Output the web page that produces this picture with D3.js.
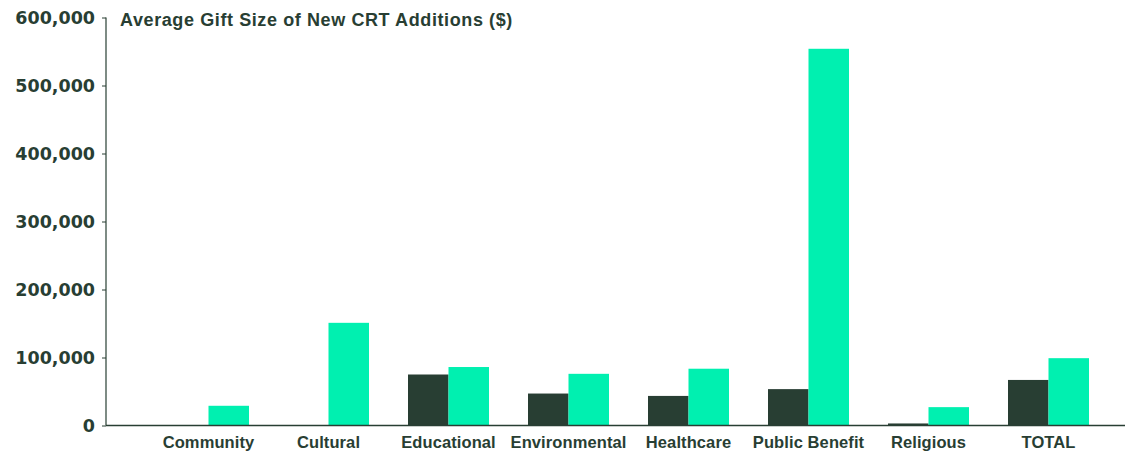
<!DOCTYPE html>
<html>
<head>
<meta charset="utf-8">
<script src="https://cdn.jsdelivr.net/npm/d3@7"></script>
<style>
  html, body { margin: 0; padding: 0; background: #ffffff; }
  svg { display: block; }
</style>
</head>
<body>
<svg id="chart" width="1131" height="453"></svg>
<script>
const categories = ["Community", "Cultural", "Educational", "Environmental", "Healthcare", "Public Benefit", "Religious", "TOTAL"];
const seriesNames = ["Prior", "New"];
const seriesA = [0, 0, 75000, 47000, 43500, 53500, 3000, 67000];
const seriesB = [29000, 151000, 86000, 76000, 83500, 554000, 27000, 99000];
const yTicks = [0, 100000, 200000, 300000, 400000, 500000, 600000];
const title = "Average Gift Size of New CRT Additions ($)";

const dark = "#283e33";
const light = "#00f0b0";
const textColor = "#283e33";

const svg = d3.select("#chart");
const axisX = 106, axisRight = 1125;
const y = d3.scaleLinear().domain([0, 600000]).range([425.5, 17.5]);
const x = d3.scaleBand().domain(categories).range([108, 1149]).paddingInner(0.325).paddingOuter(0.5);
const xs = d3.scaleBand().domain(seriesNames).range([0, x.bandwidth()]);

const data = categories.map((c, i) => ({ cat: c, vals: [seriesA[i], seriesB[i]] }));

// bars
const g = svg.append("g");
g.selectAll("g.grp").data(data).join("g")
  .attr("class", "grp")
  .attr("transform", d => `translate(${x(d.cat)},0)`)
  .selectAll("rect").data(d => d.vals.map((v, j) => ({ v, s: seriesNames[j] })))
  .join("rect")
  .attr("x", d => xs(d.s))
  .attr("width", xs.bandwidth())
  .attr("y", d => y(d.v))
  .attr("height", d => y(0) - y(d.v))
  .attr("fill", d => d.s === "Prior" ? dark : light);

// y axis
const yAxis = d3.axisLeft(y).tickValues(yTicks).tickSize(4).tickPadding(7)
  .tickFormat(d3.format(","));
const ya = svg.append("g").attr("transform", `translate(${axisX},0)`).call(yAxis);
ya.select(".domain").remove();
ya.selectAll(".tick line").attr("stroke", textColor);
ya.selectAll(".tick text")
  .attr("fill", textColor)
  .attr("dy", "0.36em")
  .style("font-family", "'DejaVu Sans', sans-serif")
  .style("font-weight", "bold")
  .style("font-size", "17.5px");
svg.append("line").attr("x1", axisX).attr("x2", axisX).attr("y1", y(600000)).attr("y2", y(0))
  .attr("stroke", textColor).attr("stroke-width", 1.2);

// x axis baseline
svg.append("line").attr("x1", axisX).attr("x2", axisRight).attr("y1", y(0)).attr("y2", y(0))
  .attr("stroke", textColor).attr("stroke-width", 1.5);

// x labels
const xAxis = d3.axisBottom(x).tickSize(0).tickPadding(11);
const xa = svg.append("g").attr("transform", `translate(0,${y(0)})`).call(xAxis);
xa.select(".domain").remove();
xa.selectAll(".tick text")
  .attr("fill", textColor)
  .style("font-family", "'Liberation Sans', Arial, sans-serif")
  .style("font-weight", "bold")
  .style("font-size", "16.5px")
  .style("letter-spacing", "0.1px");

// title
svg.append("text").attr("x", 120).attr("y", 26)
  .attr("fill", textColor)
  .style("font-family", "'Liberation Sans', Arial, sans-serif")
  .style("font-weight", "bold")
  .style("font-size", "18px")
  .style("letter-spacing", "0.6px")
  .text(title);
</script>
</body>
</html>
